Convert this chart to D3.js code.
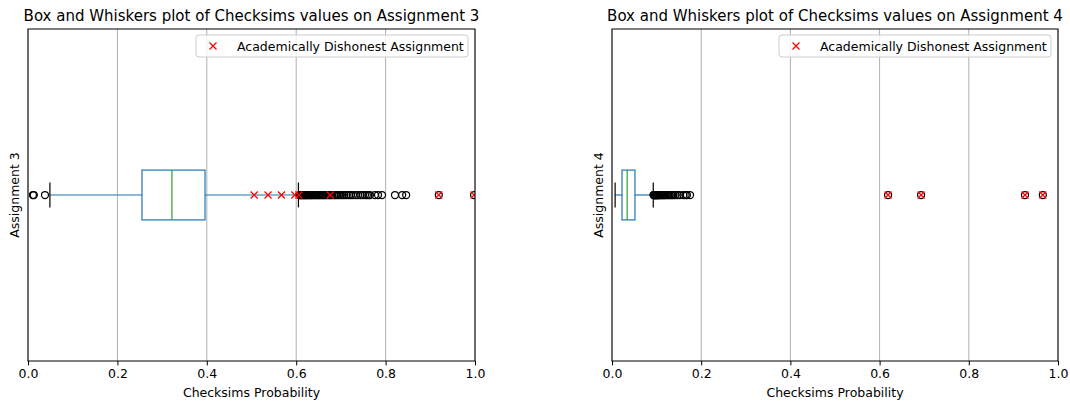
<!DOCTYPE html>
<html>
<head>
<meta charset="utf-8">
<script src="https://cdn.jsdelivr.net/npm/d3@7"></script>
<style>
  html, body { margin: 0; padding: 0; background: #fff; }
  svg text { font-family: "DejaVu Sans", sans-serif; fill: #000; }
</style>
</head>
<body>
<svg id="chart" width="1070" height="404"></svg>
<script>
// ---- data ----
const titles = ["Box and Whiskers plot of Checksims values on Assignment 3",
                "Box and Whiskers plot of Checksims values on Assignment 4"];
const yLabels = ["Assignment 3", "Assignment 4"];
const xLabel = "Checksims Probability";
const legendLabel = "Academically Dishonest Assignment";
const xTicks = [0.0, 0.2, 0.4, 0.6, 0.8, 1.0];

// box stats: [whiskerLow, q1, median, q3, whiskerHigh]
const stats3 = [0.049, 0.255, 0.322, 0.396, 0.605];
const stats4 = [0.007, 0.0225, 0.034, 0.0515, 0.0925];

const fliers3 = [0.011, 0.013, 0.038,
  0.607, 0.609, 0.611, 0.612, 0.614, 0.616, 0.618, 0.619, 0.621, 0.623, 0.625,
  0.627, 0.629, 0.631, 0.633, 0.635, 0.637, 0.640, 0.642, 0.645, 0.647, 0.650,
  0.652, 0.655, 0.658, 0.660, 0.663, 0.666, 0.669, 0.672, 0.675, 0.678, 0.681,
  0.685, 0.688, 0.692, 0.696, 0.700, 0.704, 0.708, 0.713, 0.718, 0.722, 0.727,
  0.733, 0.738, 0.744, 0.749, 0.754, 0.758, 0.762, 0.765, 0.776, 0.783, 0.792,
  0.821, 0.837, 0.846, 0.919, 0.998];
const fliers4 = [0.093, 0.094, 0.095, 0.096, 0.097, 0.098, 0.099, 0.100, 0.101,
  0.102, 0.104, 0.105, 0.107, 0.108, 0.110, 0.112, 0.114, 0.116, 0.118, 0.120,
  0.123, 0.126, 0.129, 0.132, 0.135, 0.138, 0.142, 0.147, 0.152, 0.160, 0.165,
  0.168, 0.175, 0.619, 0.693, 0.926, 0.966];

const dishonest3 = [0.506, 0.537, 0.567, 0.597, 0.606, 0.676, 0.919, 0.998];
const dishonest4 = [0.619, 0.693, 0.926, 0.966];

// ---- drawing ----
const svg = d3.select("#chart");
const panels = [
  {x0: 28, x1: 475, stats: stats3, fliers: fliers3, dis: dishonest3, title: titles[0], ylab: yLabels[0]},
  {x0: 612, x1: 1058, stats: stats4, fliers: fliers4, dis: dishonest4, title: titles[1], ylab: yLabels[1]}
];
const axTop = 29, axBottom = 361;
const boxWidth = 0.15;
const mr = 3.5;   // marker radius
const fs = 12.5, tfs = 15;

function xMarker(g, cx, cy, s) {
  g.append("path")
    .attr("d", `M${cx - s},${cy - s}L${cx + s},${cy + s}M${cx - s},${cy + s}L${cx + s},${cy - s}`)
    .attr("stroke", "#ff0000").attr("stroke-width", 1.25).attr("fill", "none");
}

panels.forEach((p, i) => {
  const x = d3.scaleLinear().domain([0, 1]).range([p.x0, p.x1]);
  const y = d3.scaleLinear().domain([0.5, 1.5]).range([axBottom, axTop]);
  const g = svg.append("g");
  const clipId = "clip" + i;
  svg.append("clipPath").attr("id", clipId).append("rect")
    .attr("x", p.x0).attr("y", axTop).attr("width", p.x1 - p.x0).attr("height", axBottom - axTop);

  // grid
  g.append("g").selectAll("line").data(xTicks).join("line")
    .attr("x1", d => x(d)).attr("x2", d => x(d))
    .attr("y1", axTop).attr("y2", axBottom)
    .attr("stroke", "#b0b0b0").attr("stroke-width", 1);

  const plot = g.append("g").attr("clip-path", `url(#${clipId})`);
  const [wl, q1, med, q3, wh] = p.stats;
  const yc = y(1);
  const hb = Math.abs(y(1 + boxWidth / 2) - y(1));
  const hc = hb / 2;
  const blue = "#1f77b4";
  const lw0 = 1.2;

  // whiskers
  plot.append("line").attr("x1", x(wl)).attr("x2", x(q1)).attr("y1", yc).attr("y2", yc)
    .attr("stroke", blue).attr("stroke-width", lw0);
  plot.append("line").attr("x1", x(q3)).attr("x2", x(wh)).attr("y1", yc).attr("y2", yc)
    .attr("stroke", blue).attr("stroke-width", lw0);
  // caps
  [wl, wh].forEach(v => {
    plot.append("line").attr("x1", x(v)).attr("x2", x(v)).attr("y1", yc - hc).attr("y2", yc + hc)
      .attr("stroke", "#000").attr("stroke-width", lw0);
  });
  // box
  plot.append("rect").attr("x", x(q1)).attr("y", yc - hb).attr("width", x(q3) - x(q1)).attr("height", 2 * hb)
    .attr("fill", "none").attr("stroke", blue).attr("stroke-width", lw0);
  // median
  plot.append("line").attr("x1", x(med)).attr("x2", x(med)).attr("y1", yc - hb).attr("y2", yc + hb)
    .attr("stroke", "#2ca02c").attr("stroke-width", lw0);

  // fliers
  plot.append("g").selectAll("circle").data(p.fliers).join("circle")
    .attr("cx", d => x(d)).attr("cy", yc).attr("r", mr)
    .attr("fill", "none").attr("stroke", "#000").attr("stroke-width", 1.25);

  // dishonest markers
  const dg = plot.append("g");
  p.dis.forEach(v => xMarker(dg, x(v), yc, 3.5));

  // spines
  g.append("rect").attr("x", p.x0).attr("y", axTop).attr("width", p.x1 - p.x0).attr("height", axBottom - axTop)
    .attr("fill", "none").attr("stroke", "#000").attr("stroke-width", 1);

  // x axis
  const ax = g.append("g").attr("transform", `translate(0,${axBottom})`)
    .call(d3.axisBottom(x).tickValues(xTicks).tickFormat(d3.format(".1f")).tickSize(4.4).tickPadding(4));
  ax.select(".domain").remove();
  ax.selectAll("line").attr("stroke", "#000").attr("stroke-width", 1);
  ax.selectAll("text").attr("font-size", fs).attr("font-family", "DejaVu Sans").attr("fill", "#000");

  g.append("text").attr("x", (p.x0 + p.x1) / 2).attr("y", 397).attr("text-anchor", "middle")
    .attr("font-size", fs).text(xLabel);
  g.append("text").attr("x", (p.x0 + p.x1) / 2).attr("y", 21).attr("text-anchor", "middle")
    .attr("font-size", tfs).text(p.title);
  g.append("text").attr("transform", `translate(${p.x0 - 9.5},${(axTop + axBottom) / 2}) rotate(-90)`)
    .attr("text-anchor", "middle").attr("font-size", fs).text(p.ylab);

  // legend
  const lw = 272, lh = 22;
  const lx = p.x1 - 7 - lw, ly = axTop + 6;
  g.append("rect").attr("x", lx).attr("y", ly).attr("width", lw).attr("height", lh).attr("rx", 3)
    .attr("fill", "#fff").attr("fill-opacity", 0.8).attr("stroke", "#cccccc").attr("stroke-width", 1);
  xMarker(g, lx + 17, ly + lh / 2, 3.5);
  g.append("text").attr("x", lx + 41).attr("y", ly + lh / 2 + 4.5).attr("font-size", fs).text(legendLabel);
});
</script>
</body>
</html>
